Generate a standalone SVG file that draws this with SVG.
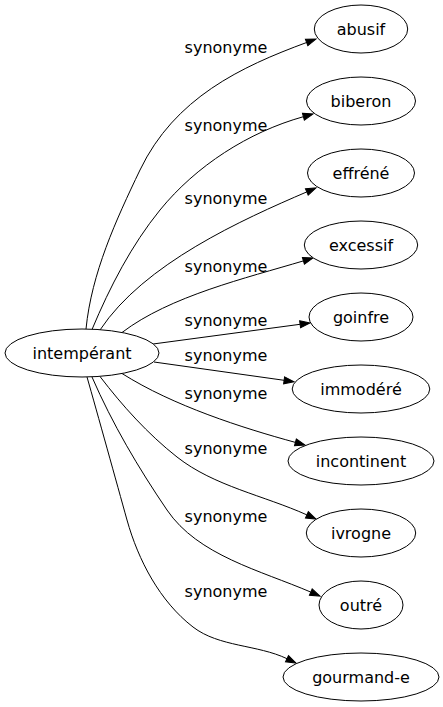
<svg xmlns="http://www.w3.org/2000/svg" width="443" height="707" viewBox="0 0 443 707">
<style>
.node ellipse{fill:#ffffff;stroke:#000000;stroke-width:1}
.node text,.lbl{font-family:"DejaVu Sans","Liberation Sans",sans-serif;font-size:16px;fill:#000000;text-anchor:middle}
.edge{fill:none;stroke:#000000;stroke-width:1;marker-end:url(#arr)}
</style>
<defs>
<marker id="arr" markerUnits="userSpaceOnUse" markerWidth="10" markerHeight="7" refX="0" refY="3.5" orient="auto" overflow="visible">
<path d="M0,0 L10,3.5 L0,7 Z" fill="#000000" stroke="#000000" stroke-width="1"/>
</marker>
</defs>
<rect x="0" y="0" width="443" height="707" fill="#ffffff"/>
<g id="connectors">
<path class="edge" d="M86,329 C91.6,273 115.8,220.5 140,170 C174.6,97.9 240.9,66.7 306.6,42.5"/>
<path class="edge" d="M92,329.5 C110,286.6 131.6,244.9 160,210 C196,165.8 248.5,132 303.4,116.7"/>
<path class="edge" d="M100,330 C144,263.6 242.5,219.5 306.8,191.9"/>
<path class="edge" d="M122,332.5 C170,296 245.9,278.1 303.4,260.9"/>
<path class="edge" d="M153,344 L300.1,324.3"/>
<path class="edge" d="M154,362 L284.1,380.3"/>
<path class="edge" d="M122,373.5 C173,405.8 242.3,427.9 295.4,442.4"/>
<path class="edge" d="M100,376.5 C122.2,405.6 147.9,434.1 177,457 C213.9,486.1 264.1,495.6 306.9,514.9"/>
<path class="edge" d="M92,377 C112.4,423.9 138.3,467.8 167,510 C197.9,555.5 260.3,570.4 310.8,592.1"/>
<path class="edge" d="M87,377 C97,412 117,484 127,520 C138.3,560.3 159.8,601.4 193,627 C219.1,647.1 257.3,644.5 287,658.7"/>
<text class="lbl" x="226" y="53">synonyme</text>
<text class="lbl" x="226" y="131">synonyme</text>
<text class="lbl" x="226" y="204">synonyme</text>
<text class="lbl" x="226" y="272">synonyme</text>
<text class="lbl" x="226" y="326">synonyme</text>
<text class="lbl" x="226" y="361">synonyme</text>
<text class="lbl" x="226" y="399">synonyme</text>
<text class="lbl" x="226" y="454">synonyme</text>
<text class="lbl" x="226" y="522">synonyme</text>
<text class="lbl" x="226" y="597">synonyme</text>
</g>
<g id="node-intemperant" class="node"><ellipse cx="82" cy="353" rx="77" ry="24"/><text x="82" y="358.5">intempérant</text></g>
<g id="node-abusif" class="node"><ellipse cx="361" cy="29" rx="46.7" ry="24"/><text x="361" y="34.5">abusif</text></g>
<g id="node-biberon" class="node"><ellipse cx="361" cy="101" rx="54.5" ry="24"/><text x="361" y="106.5">biberon</text></g>
<g id="node-effrene" class="node"><ellipse cx="361" cy="173" rx="53.5" ry="24"/><text x="361" y="178.5">effréné</text></g>
<g id="node-excessif" class="node"><ellipse cx="361" cy="245" rx="56.7" ry="24"/><text x="361" y="250.5">excessif</text></g>
<g id="node-goinfre" class="node"><ellipse cx="361" cy="317" rx="52" ry="24"/><text x="361" y="322.5">goinfre</text></g>
<g id="node-immodere" class="node"><ellipse cx="361" cy="389" rx="68.8" ry="24"/><text x="361" y="394.5">immodéré</text></g>
<g id="node-incontinent" class="node"><ellipse cx="361" cy="461" rx="73" ry="24"/><text x="361" y="466.5">incontinent</text></g>
<g id="node-ivrogne" class="node"><ellipse cx="361" cy="533" rx="54.7" ry="24"/><text x="361" y="538.5">ivrogne</text></g>
<g id="node-outre" class="node"><ellipse cx="361" cy="605" rx="42" ry="24"/><text x="361" y="610.5">outré</text></g>
<g id="node-gourmand-e" class="node"><ellipse cx="361" cy="677" rx="78" ry="24"/><text x="361" y="682.5">gourmand-e</text></g>
</svg>
